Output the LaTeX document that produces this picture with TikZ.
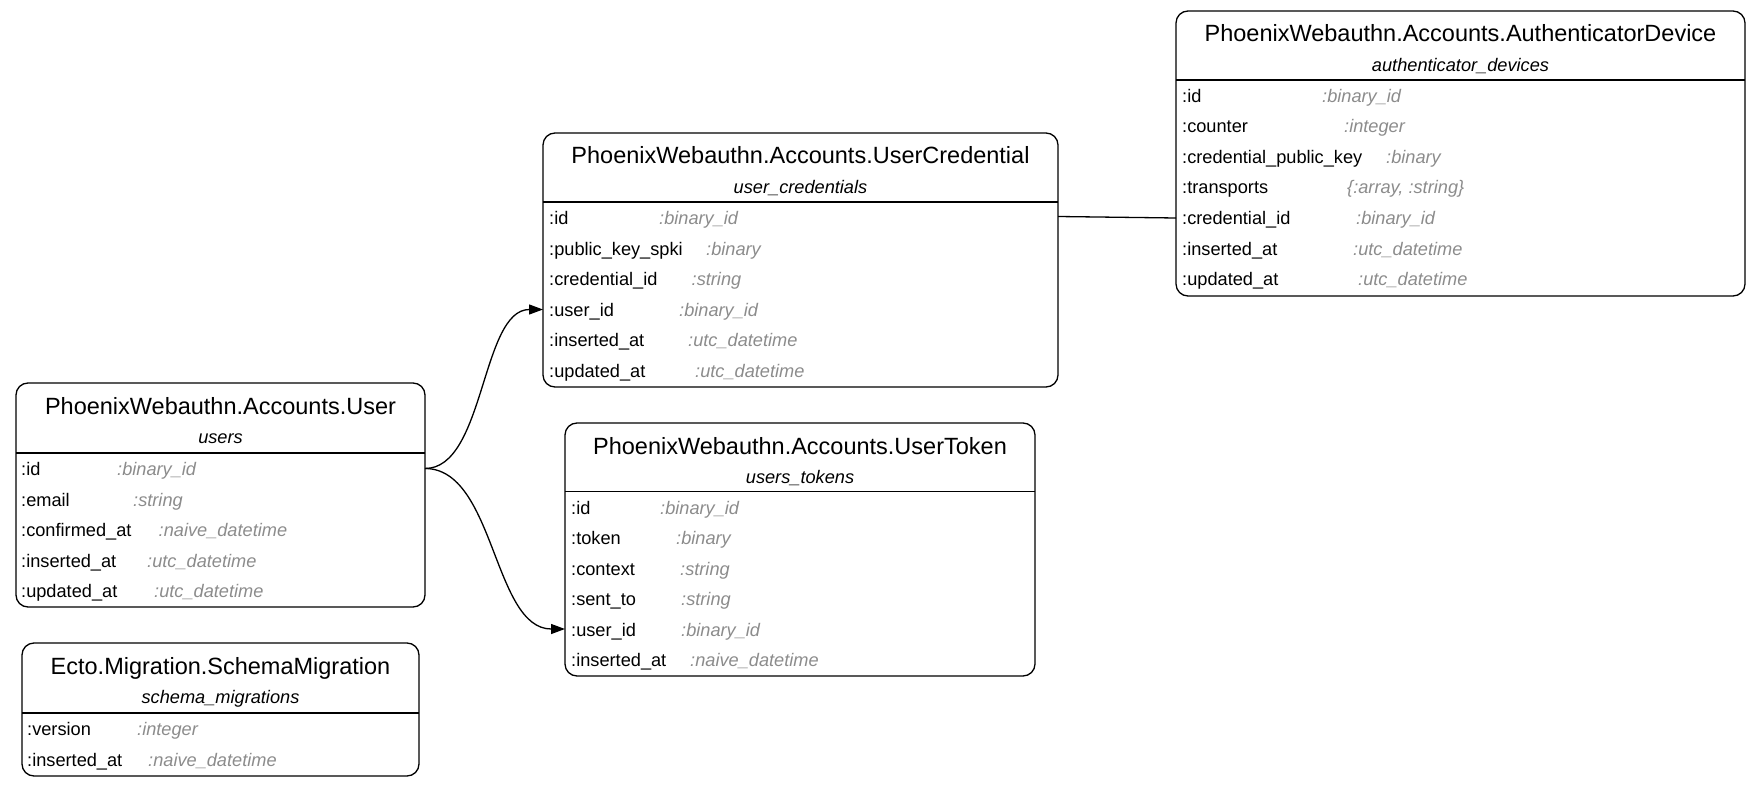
\documentclass[tikz,border=0pt]{standalone}
\usepackage{fontspec}
\setmainfont{Liberation Sans}
\usetikzlibrary{arrows.meta}
\definecolor{typegray}{RGB}{140,140,140}
\begin{document}
\begin{tikzpicture}[x=1pt,y=-1pt,
  erbox/.style={draw, line width=1.3pt, rounded corners=12pt, anchor=north west, inner sep=0pt, outer sep=0pt},
  sepline/.style={line width=1.3pt},
  ttl/.style={font=\fontsize{23.5}{28}\selectfont, anchor=base, inner sep=0pt, yshift=-1.5pt},
  sub/.style={font=\fontsize{18.2}{22}\selectfont\itshape, anchor=base, inner sep=0pt, yshift=-1.5pt},
  fname/.style={font=\fontsize{18.2}{22}\selectfont, anchor=base west, inner sep=0pt, yshift=-1.5pt},
  ftype/.style={font=\fontsize{18.2}{22}\selectfont\itshape, text=typegray, anchor=base west, inner sep=0pt, yshift=-1.5pt},
  rel/.style={line width=1.3pt},
  relarrow/.style={rel, -{Triangle[length=14pt,width=10pt]}}
]
\useasboundingbox (0,0) rectangle (1763,786);

% ---------- User ----------
\node[erbox, minimum width=409pt, minimum height=224pt] (user) at (16,383) {};
\draw[sepline] (16,453) -- (425,453);
\node[ttl] (user-t) at (220.5,412.5) {PhoenixWebauthn.Accounts.User};
\node[sub] (user-s) at (220.5,442) {users};
\node[fname] (user-f1) at (21,474) {:id};
\node[ftype] (user-y1) at (117,474) {:binary\_id};
\node[fname] (user-f2) at (21,504.5) {:email};
\node[ftype] (user-y2) at (133,504.5) {:string};
\node[fname] (user-f3) at (21,535) {:confirmed\_at};
\node[ftype] (user-y3) at (158.5,535) {:naive\_datetime};
\node[fname] (user-f4) at (21,565.5) {:inserted\_at};
\node[ftype] (user-y4) at (147,565.5) {:utc\_datetime};
\node[fname] (user-f5) at (21,596) {:updated\_at};
\node[ftype] (user-y5) at (154,596) {:utc\_datetime};
\coordinate (user-id-e) at (425,468.5);

% ---------- SchemaMigration ----------
\node[erbox, minimum width=397pt, minimum height=133pt] (schema) at (22,643) {};
\draw[sepline] (22,713) -- (419,713);
\node[ttl] (schema-t) at (220.5,672.5) {Ecto.Migration.SchemaMigration};
\node[sub] (schema-s) at (220.5,702) {schema\_migrations};
\node[fname] (schema-f1) at (27,734) {:version};
\node[ftype] (schema-y1) at (137,734) {:integer};
\node[fname] (schema-f2) at (27,764.5) {:inserted\_at};
\node[ftype] (schema-y2) at (148,764.5) {:naive\_datetime};

% ---------- UserCredential ----------
\node[erbox, minimum width=515pt, minimum height=254pt] (uc) at (543,133) {};
\draw[sepline] (543,202) -- (1058,202);
\node[ttl] (uc-t) at (800.5,162.5) {PhoenixWebauthn.Accounts.UserCredential};
\node[sub] (uc-s) at (800.5,192) {user\_credentials};
\node[fname] (uc-f1) at (549,223) {:id};
\node[ftype] (uc-y1) at (659,223) {:binary\_id};
\node[fname] (uc-f2) at (549,253.5) {:public\_key\_spki};
\node[ftype] (uc-y2) at (706,253.5) {:binary};
\node[fname] (uc-f3) at (549,284) {:credential\_id};
\node[ftype] (uc-y3) at (691.5,284) {:string};
\node[fname] (uc-f4) at (549,314.5) {:user\_id};
\node[ftype] (uc-y4) at (679,314.5) {:binary\_id};
\node[fname] (uc-f5) at (549,345) {:inserted\_at};
\node[ftype] (uc-y5) at (688,345) {:utc\_datetime};
\node[fname] (uc-f6) at (549,375.5) {:updated\_at};
\node[ftype] (uc-y6) at (695,375.5) {:utc\_datetime};
\coordinate (uc-id-e) at (1058,216.5);
\coordinate (uc-userid-w) at (543,309.5);

% ---------- UserToken ----------
\node[erbox, minimum width=470pt, minimum height=253pt] (ut) at (565,423) {};
\draw[sepline] (565,491.5) -- (1035,491.5);
\node[ttl] (ut-t) at (800,452.5) {PhoenixWebauthn.Accounts.UserToken};
\node[sub] (ut-s) at (800,482) {users\_tokens};
\node[fname] (ut-f1) at (571,512.5) {:id};
\node[ftype] (ut-y1) at (660,512.5) {:binary\_id};
\node[fname] (ut-f2) at (571,543) {:token};
\node[ftype] (ut-y2) at (676,543) {:binary};
\node[fname] (ut-f3) at (571,573.5) {:context};
\node[ftype] (ut-y3) at (680,573.5) {:string};
\node[fname] (ut-f4) at (571,604) {:sent\_to};
\node[ftype] (ut-y4) at (681,604) {:string};
\node[fname] (ut-f5) at (571,634.5) {:user\_id};
\node[ftype] (ut-y5) at (681,634.5) {:binary\_id};
\node[fname] (ut-f6) at (571,665) {:inserted\_at};
\node[ftype] (ut-y6) at (690,665) {:naive\_datetime};
\coordinate (ut-userid-w) at (565,629);

% ---------- AuthenticatorDevice ----------
\node[erbox, minimum width=569pt, minimum height=285pt] (ad) at (1176,11) {};
\draw[sepline] (1176,80) -- (1745,80);
\node[ttl] (ad-t) at (1460.5,40.5) {PhoenixWebauthn.Accounts.AuthenticatorDevice};
\node[sub] (ad-s) at (1460.5,70) {authenticator\_devices};
\node[fname] (ad-f1) at (1182,101) {:id};
\node[ftype] (ad-y1) at (1322,101) {:binary\_id};
\node[fname] (ad-f2) at (1182,131.5) {:counter};
\node[ftype] (ad-y2) at (1344,131.5) {:integer};
\node[fname] (ad-f3) at (1182,162) {:credential\_public\_key};
\node[ftype] (ad-y3) at (1386,162) {:binary};
\node[fname] (ad-f4) at (1182,192.5) {:transports};
\node[ftype] (ad-y4) at (1347,192.5) {\{:array, :string\}};
\node[fname] (ad-f5) at (1182,223) {:credential\_id};
\node[ftype] (ad-y5) at (1356,223) {:binary\_id};
\node[fname] (ad-f6) at (1182,253.5) {:inserted\_at};
\node[ftype] (ad-y6) at (1353,253.5) {:utc\_datetime};
\node[fname] (ad-f7) at (1182,284) {:updated\_at};
\node[ftype] (ad-y7) at (1358,284) {:utc\_datetime};
\coordinate (ad-credid-w) at (1176,218);

% ---------- Connectors ----------
\draw[relarrow] (user-id-e) .. controls +(60,0) and +(-62,0) .. (uc-userid-w);
\draw[relarrow] (user-id-e) .. controls +(70,0) and +(-72,0) .. (ut-userid-w);
\draw[rel] (uc-id-e) -- (ad-credid-w);
\end{tikzpicture}
\end{document}
